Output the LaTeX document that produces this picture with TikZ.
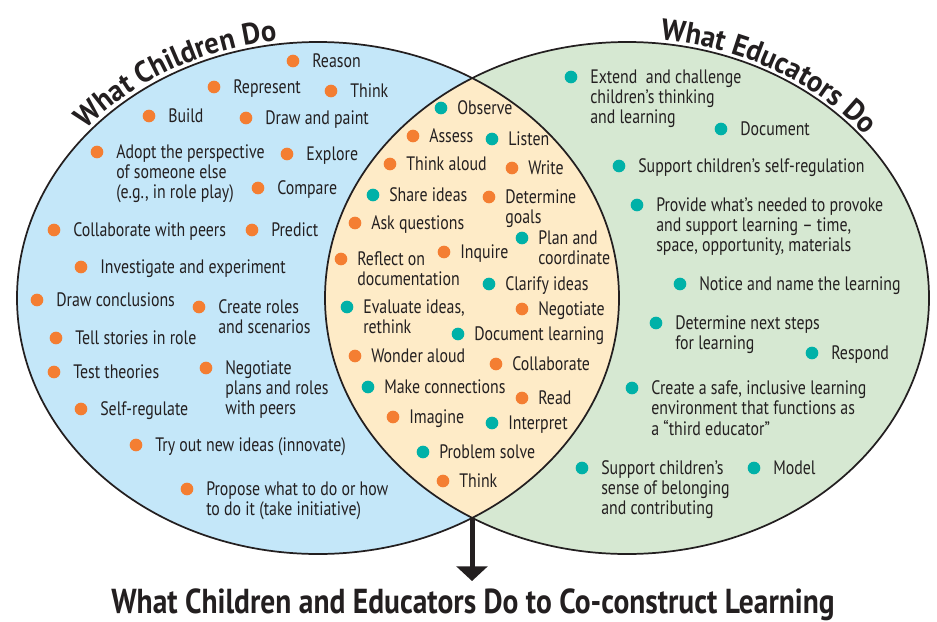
\documentclass[tikz,border=0pt]{standalone}
\usepackage{fontspec}
\setmainfont{PT Sans}[FakeStretch=0.815]
\newfontfamily\headfont{PT Sans}[FakeStretch=0.95]
\newfontfamily\bottomfont{PT Sans}[FakeStretch=0.85]
\usetikzlibrary{calc,positioning,arrows.meta,decorations.text}

\definecolor{kidblue}{HTML}{C4E7F9}
\definecolor{edugreen}{HTML}{D6E8D2}
\definecolor{bothcream}{HTML}{FEEBC7}
\definecolor{orngdot}{HTML}{F47E32}
\definecolor{tealdot}{HTML}{00B1A8}
\definecolor{ink}{HTML}{231F20}

\tikzset{
  dot/.style={circle, inner sep=0pt, minimum size=9.5pt, fill=#1},
  act/.style={anchor=base west, inner sep=0pt, text=ink,
    font=\fontsize{14.6}{15.3}\selectfont},
  headline/.style={anchor=base, inner sep=0pt, text=ink,
    font=\bottomfont\bfseries\fontsize{26}{28}\selectfont},
  rim/.style={draw=ink, line width=1.3pt}
}

% dot and its text: [gap]{colour}{name}{position}{text}
\newcommand{\act}[5][19]{%
  \node[dot=#2] (#3) at (#4) {};
  \node[act] (#3-t) at ($(#3)+(#1,-6)$)
    {\begin{tabular}[t]{@{}l@{}}#5\end{tabular}};}

\begin{document}
\begin{tikzpicture}[x=0.75pt,y=0.75pt]
  \useasboundingbox (0,0) rectangle (937,-621);
  \coordinate (kids) at (318,-298);
  \coordinate (edu) at (627,-298);
  % the two sets and their overlap
  \fill[kidblue] (kids) ellipse[x radius=301, y radius=256];
  \fill[edugreen] (edu) ellipse[x radius=302, y radius=256];
  \begin{scope}
    \clip (kids) ellipse[x radius=301, y radius=256];
    \fill[bothcream] (edu) ellipse[x radius=302, y radius=256];
  \end{scope}
  \path[rim] (kids) ellipse[x radius=301, y radius=256];
  \path[rim] (edu) ellipse[x radius=302, y radius=256];

  % titles on the rims
  \path[decorate, decoration={text along path, text align=center, text color=ink,
      text={|\headfont\bfseries\fontsize{22.5}{24}\selectfont|What Children Do}}]
    ($(kids)+(164:305 and 260)$) arc[start angle=164, end angle=76, x radius=305, y radius=260];
  \path[decorate, decoration={text along path, text align=center, text color=ink,
      text={|\headfont\bfseries\fontsize{22.5}{24}\selectfont|What Educators Do}}]
    ($(edu)+(104:306 and 260)$) arc[start angle=104, end angle=16, x radius=306, y radius=260];

  % what children do
  \act{orngdot}{reason}{293,-61}{Reason}
  \act{orngdot}{repr}{214,-87}{Represent}
  \act{orngdot}{thinkA}{331,-91}{Think}
  \act{orngdot}{build}{149,-116}{Build}
  \act{orngdot}{paint}{246,-118}{Draw and paint}
  \act{orngdot}{adopt}{97,-152}{Adopt the perspective\\of someone else\\(e.g., in role play)}
  \act{orngdot}{explore}{287,-154}{Explore}
  \act{orngdot}{compare}{258,-188}{Compare}
  \act{orngdot}{peers}{54,-230}{Collaborate with peers}
  \act{orngdot}{predict}{252,-230}{Predict}
  \act{orngdot}{invest}{81,-267}{Investigate and experiment}
  \act{orngdot}{concl}{37,-300}{Draw conclusions}
  \act{orngdot}{roles}{199,-307}{Create roles\\and scenarios}
  \act{orngdot}{stories}{56,-338}{Tell stories in role}
  \act{orngdot}{theories}{54,-372}{Test theories}
  \act{orngdot}{negA}{206,-368}{Negotiate\\plans and roles\\with peers}
  \act{orngdot}{selfreg}{81,-409}{Self-regulate}
  \act{orngdot}{tryout}{136,-445}{Try out new ideas (innovate)}
  \act{orngdot}{propose}{187,-489}{Propose what to do or how\\to do it (take initiative)}

  % both
  \act[16]{tealdot}{observe}{441,-108}{Observe}
  \act[16]{orngdot}{assess}{413,-136}{Assess}
  \act[16]{tealdot}{listen}{492,-139}{Listen}
  \act[16]{orngdot}{aloud}{390,-164}{Think aloud}
  \act[16]{orngdot}{write}{512,-168}{Write}
  \act[16]{tealdot}{share}{373,-195}{Share ideas}
  \act[16]{orngdot}{goals}{489,-197}{Determine\\goals}
  \act[16]{orngdot}{ask}{355,-223}{Ask questions}
  \act[16]{tealdot}{plan}{522,-238}{Plan and\\coordinate}
  \act[16]{orngdot}{inquire}{444,-252}{Inquire}
  \act[16]{orngdot}{reflect}{341,-259}{Reflect on\\documentation}
  \act[16]{tealdot}{clarify}{489,-284}{Clarify ideas}
  \act[16]{tealdot}{evaluate}{347,-307}{Evaluate ideas,\\rethink}
  \act[16]{orngdot}{negB}{522,-309}{Negotiate}
  \act[16]{tealdot}{doclearn}{458,-334}{Document learning}
  \act[16]{orngdot}{wonder}{355,-356}{Wonder aloud}
  \act[16]{orngdot}{collab}{496,-364}{Collaborate}
  \act[16]{tealdot}{connect}{368,-387}{Make connections}
  \act[16]{orngdot}{read}{522,-398}{Read}
  \act[16]{orngdot}{imagine}{393,-417}{Imagine}
  \act[16]{tealdot}{interpret}{492,-423}{Interpret}
  \act[16]{tealdot}{problem}{423,-452}{Problem solve}
  \act[16]{orngdot}{thinkB}{443,-481}{Think}

  % what educators do
  \act{tealdot}{extend}{571,-77}{Extend\ \ and challenge\\children’s thinking\\and learning}
  \act{tealdot}{document}{721,-129}{Document}
  \act{tealdot}{support}{619,-166}{Support children’s self-regulation}
  \act{tealdot}{provide}{637,-205}{Provide what’s needed to provoke\\and support learning – time,\\space, opportunity, materials}
  \act{tealdot}{notice}{680,-284}{Notice and name the learning}
  \act{tealdot}{next}{656,-323}{Determine next steps\\for learning}
  \act{tealdot}{respond}{812,-353}{Respond}
  \act{tealdot}{safe}{632,-388}{Create a safe, inclusive learning\\environment that functions as\\a “third educator”}
  \act{tealdot}{belong}{582,-468}{Support children’s\\sense of belonging\\and contributing}
  \act{tealdot}{model}{754,-468}{Model}

  % result
  \coordinate (lensbot) at (472,-519);
  \coordinate (arrowtip) at (472,-581);
  \node[headline] (cocon) at (473,-613) {What Children and Educators Do to Co-construct Learning};
  \draw[ink, line width=3.75pt, -{Triangle[width=23pt,length=11pt]}] (lensbot) -- (arrowtip);
\end{tikzpicture}
\end{document}
